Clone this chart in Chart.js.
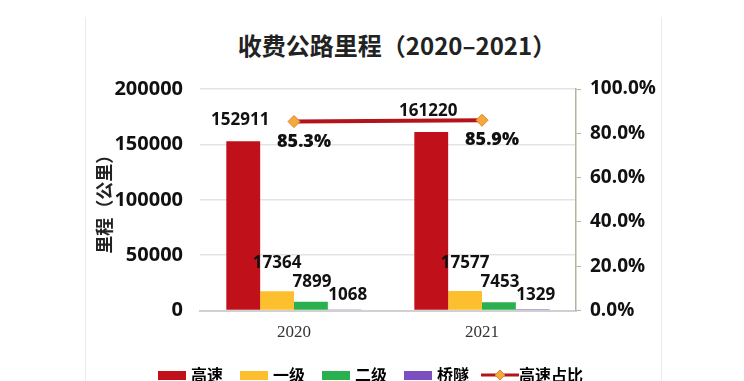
<!DOCTYPE html>
<html>
<head>
<meta charset="utf-8">
<script src="https://cdn.jsdelivr.net/npm/chart.js@4.4.1/dist/chart.umd.min.js"></script>
<style>
  html, body { margin: 0; padding: 0; background: #fff; overflow: hidden; }
  #wrap { position: relative; width: 744px; height: 381px; overflow: hidden; }
  #card { position: absolute; left: 85px; top: 17px; width: 575px; height: 420px;
          border-left: 1px solid #ececec; border-right: 1px solid #ececec; }
  #title { position: absolute; left: 97px; top: 30px; width: 600px; text-align: center;
           font: bold 24px "Noto Sans CJK SC", sans-serif; line-height: 30px; color: #222; }
  #box { position: absolute; left: 0; top: 0; width: 744px; height: 393px; }
</style>
</head>
<body>
<div id="wrap">
  <div id="card"></div>
  <div id="title">收费公路里程（2020–2021）</div>
  <div id="box"><canvas id="chart"></canvas></div>
</div>
<script>
// Data
const years = ['2020', '2021'];
const highway = [152911, 161220];
const classOne = [17364, 17577];
const classTwo = [7899, 7453];
const bridgeTunnel = [1068, 1329];
const highwayShare = [85.3, 85.9];
const seriesNames = ['高速', '一级', '二级', '桥隧', '高速占比'];

const RED = '#C0111A';
const YELLOW = '#FDBF2D';
const GREEN = '#2BB04F';
const PURPLE = '#7B4FC0';
const LINE_RED = '#B3141C';
const DIAMOND = '#F6A83C';

const NUM_FONT = '"Open Sans", "Noto Sans", sans-serif';
const CJK_FONT = '"Noto Sans CJK SC", sans-serif';

// Legend icons
function boxIcon(color) {
  const c = document.createElement('canvas');
  c.width = 28; c.height = 9;
  const g = c.getContext('2d');
  g.fillStyle = color;
  g.fillRect(0, 0, 28, 9);
  return c;
}

function lineIcon() {
  const c = document.createElement('canvas');
  c.width = 38; c.height = 14;
  const g = c.getContext('2d');
  g.strokeStyle = LINE_RED;
  g.lineWidth = 3;
  g.beginPath(); g.moveTo(0, 7); g.lineTo(38, 7); g.stroke();
  g.fillStyle = DIAMOND;
  g.strokeStyle = '#D9822B';
  g.lineWidth = 1;
  g.beginPath(); g.moveTo(19, 2); g.lineTo(24, 7); g.lineTo(19, 12); g.lineTo(14, 7); g.closePath();
  g.fill(); g.stroke();
  return c;
}

const legendIcons = [boxIcon(RED), boxIcon(YELLOW), boxIcon(GREEN), boxIcon(PURPLE), lineIcon()];

// Value labels drawn over the marks
const valueLabels = {
  id: 'valueLabels',
  afterDatasetsDraw(chart) {
    const ctx = chart.ctx;
    ctx.save();
    ctx.textAlign = 'center';
    ctx.textBaseline = 'middle';
    ctx.fillStyle = '#111';
    chart.data.datasets.forEach((ds, i) => {
      const meta = chart.getDatasetMeta(i);
      ctx.font = ds.type === 'line' ? `800 18px ${NUM_FONT}` : `bold 17px ${NUM_FONT}`;
      meta.data.forEach((el, j) => {
        const v = ds.data[j];
        const text = ds.type === 'line' ? v.toFixed(1) + '%' : String(v);
        ctx.fillText(text, el.x + ds.labelDx, el.y - ds.labelDy);
      });
    });
    ctx.restore();
  }
};

const ctx = document.getElementById('chart').getContext('2d');

new Chart(ctx, {
  type: 'bar',
  data: {
    labels: years,
    datasets: [
      { label: seriesNames[0], data: highway, backgroundColor: RED, yAxisID: 'y', labelDx: -3, labelDy: 21 },
      { label: seriesNames[1], data: classOne, backgroundColor: YELLOW, yAxisID: 'y', labelDx: 0, labelDy: 28 },
      { label: seriesNames[2], data: classTwo, backgroundColor: GREEN, yAxisID: 'y', labelDx: 1, labelDy: 20 },
      { label: seriesNames[3], data: bridgeTunnel, backgroundColor: PURPLE, yAxisID: 'y', labelDx: 3, labelDy: 14 },
      {
        type: 'line', label: seriesNames[4], data: highwayShare, yAxisID: 'y1',
        borderColor: LINE_RED, borderWidth: 4, pointStyle: 'rectRot', pointRadius: 6,
        pointBackgroundColor: DIAMOND, pointBorderColor: '#D9822B', pointBorderWidth: 1,
        labelDx: 10, labelDy: -20
      }
    ]
  },
  options: {
    responsive: true,
    maintainAspectRatio: false,
    animation: false,
    categoryPercentage: 0.72,
    barPercentage: 1,
    layout: { padding: { left: 0, right: 0, top: 89, bottom: 0 } },
    plugins: {
      title: { display: false },
      legend: {
        position: 'bottom',
        labels: {
          usePointStyle: true,
          pointStyleWidth: 22,
          padding: 20,
          color: '#222',
          font: { family: CJK_FONT, size: 16, weight: 'bold' },
          generateLabels(chart) {
            return chart.data.datasets.map((ds, i) => ({
              text: ds.label,
              pointStyle: legendIcons[i],
              fillStyle: 'transparent',
              strokeStyle: 'transparent',
              lineWidth: 0,
              hidden: false,
              datasetIndex: i
            }));
          }
        }
      },
      tooltip: { enabled: false }
    },
    scales: {
      x: {
        grid: { display: false },
        border: { display: true, color: '#D0D0D0', width: 2 },
        ticks: {
          color: '#333',
          padding: 4,
          font: { family: '"Liberation Serif", "Times New Roman", serif', size: 17 }
        }
      },
      y: {
        position: 'left',
        min: 0,
        max: 200000,
        ticks: {
          stepSize: 50000,
          padding: 17,
          color: '#111',
          font: { family: NUM_FONT, size: 20, weight: 'bold' },
          callback: v => String(v)
        },
        grid: { color: '#E3E3E3', lineWidth: 1.5, drawTicks: false },
        border: { display: false },
        title: {
          display: true,
          text: '里程（公里）',
          color: '#222',
          font: { family: CJK_FONT, size: 18, weight: 'bold' },
          padding: { top: 93, bottom: 0 }
        },
        afterFit(scale) { scale.width = 200; }
      },
      y1: {
        position: 'right',
        min: 0,
        max: 100,
        ticks: {
          stepSize: 20,
          padding: 9,
          color: '#111',
          font: { family: NUM_FONT, size: 19, weight: 'bold' },
          callback: v => v.toFixed(1) + '%'
        },
        grid: { drawOnChartArea: false, color: '#A9B99A', tickLength: 5 },
        border: { display: true, color: '#A9B99A', width: 1.5 },
        afterFit(scale) { scale.width = 168; }
      }
    }
  },
  plugins: [valueLabels]
});
</script>
</body>
</html>
